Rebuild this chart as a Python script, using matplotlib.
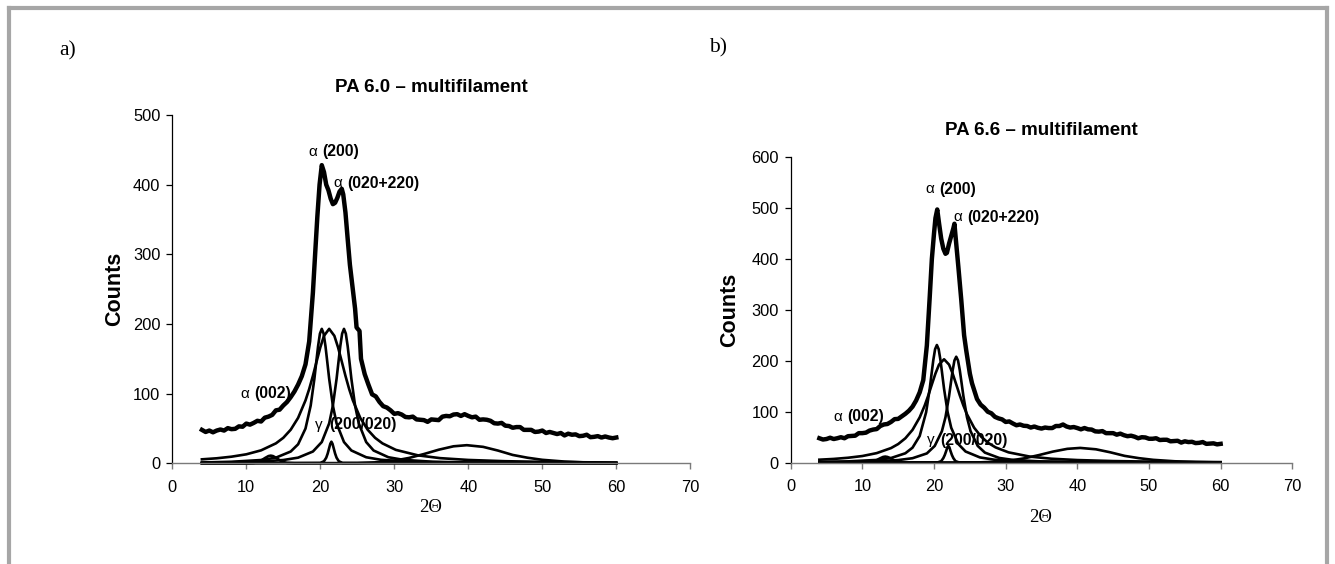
import matplotlib
matplotlib.use("Agg")
import matplotlib.pyplot as plt
from matplotlib.lines import Line2D

plt.rcParams['font.family'] = ['Liberation Sans', 'DejaVu Sans']

# ---------------- measured diffractograms ----------------
meas_lo_x = [4, 4.5, 5, 5.5, 6, 6.5, 7, 7.5, 8, 8.5, 9, 9.5, 10, 10.5, 11, 11.5, 12, 12.5, 13, 13.5,
             14, 14.5, 15, 15.5, 16, 16.5, 17]
meas_tail_x = [26, 26.5, 27, 27.5, 28, 28.5, 29, 29.5, 30, 30.5, 31, 31.5, 32, 32.5, 33, 33.5, 34, 34.5,
               35, 35.5, 36, 36.5, 37, 37.5, 38, 38.5, 39, 39.5, 40, 40.5, 41, 41.5, 42, 42.5, 43, 43.5,
               44, 44.5, 45, 45.5, 46, 46.5, 47, 47.5, 48, 48.5, 49, 49.5, 50, 50.5, 51, 51.5, 52, 52.5,
               53, 53.5, 54, 54.5, 55, 55.5, 56, 56.5, 57, 57.5, 58, 58.5, 59, 59.5, 60]

# PA 6.0 (left)
a_peak_x = [17.5, 18, 18.5, 19, 19.3, 19.6, 19.9, 20.2, 20.5, 20.8, 21.1, 21.4, 21.7, 22.0, 22.3, 22.6,
            22.9, 23.1, 23.4, 23.7, 24.0, 24.4, 24.7, 24.9, 25.3, 25.5]
a_lo_y = [48, 45, 47, 44.5, 47, 48.5, 47, 50.5, 49, 49.5, 53, 52.5, 57, 55.5, 58, 61, 60, 65.5, 67, 69.5,
          76, 77, 83, 88, 95, 103, 113]
a_peak_y = [125, 142, 175, 245, 300, 354, 400, 428, 418, 400, 392, 380, 372, 374, 381, 390,
            394, 386, 360, 322, 285, 249, 222, 195, 190, 150]
a_tail_y = [128, 113, 99, 96, 88, 82, 80, 76, 71, 72, 70, 66.5, 66, 67, 63, 62.5, 62, 59.5,
            63, 62.5, 62, 67, 68, 67.5, 70, 70.5, 68, 70.5, 68, 66, 67, 62.5, 63, 62.5, 61, 57.5,
            57, 58, 54, 53.5, 51, 52, 52, 48, 48, 48, 45, 45.5, 47, 43.5, 45, 43.5, 42, 43.5,
            40, 42.5, 41, 41.5, 39, 39.5, 41, 37.5, 38, 39, 37, 38.5, 37, 36, 37]

# PA 6.6 (right)
b_peak_x = [17.5, 18, 18.5, 19, 19.4, 19.7, 20.0, 20.2, 20.45, 20.7, 21.0, 21.3, 21.6, 21.8, 22.1, 22.4,
            22.7, 22.85, 23.0, 23.4, 23.8, 24.2, 24.5, 25.0, 25.3]
b_lo_y = [48, 45.5, 46.5, 49, 46.5, 48, 50, 48, 52, 52.5, 53, 58, 58, 59, 63, 65, 66, 72, 75, 76,
          80, 85.5, 86, 91, 96, 102, 110]
b_peak_y = [122, 138, 162, 230, 325, 400, 450, 480, 497, 470, 440, 420, 410, 412, 430, 445,
            460, 469, 445, 384, 320, 250, 220, 175, 156]
b_tail_y = [125, 114, 108, 100, 97, 90, 87, 85, 80, 81, 77, 73.5, 75, 72.5, 72, 69, 71, 68.5,
            67, 69, 68, 68, 72, 72, 75, 71, 69, 70, 68, 65.5, 68, 65.5, 65, 61.5, 61, 62,
            58, 58, 58, 55, 57, 54, 52, 53, 51, 48, 50, 49.5, 47, 47, 48, 44.5, 45, 45,
            42, 42.5, 43, 39.5, 42, 40.5, 41, 38.5, 39, 40.5, 37, 37.5, 38, 36, 37]

# ---------------- fitted components: PA 6.0 ----------------
a_p1_x = [4, 8, 12, 14, 16, 17, 18, 18.7, 19.2, 19.5, 19.7, 19.95, 20.2, 20.45, 20.7, 20.9, 21.2, 21.7,
          22.2, 23.2, 24.2, 26.2, 28.2, 32.2, 40, 50, 60]
a_p1_y = [1.2, 2.2, 4.7, 8.1, 16.9, 27.3, 49.9, 82.8, 121.3, 149.6, 168.1, 186.1, 193, 186.1, 168.1,
          149.6, 121.3, 82.8, 57.3, 30.5, 18.4, 8.7, 5.0, 2.2, 0.8, 0.4, 0.2]

a_p2_x = [4, 6, 8, 10, 12, 14, 15, 16, 17, 18, 18.5, 19, 19.5, 20, 20.5, 21.2, 21.9, 22.4, 22.9, 23.4,
          23.9, 24.4, 25.4, 26.4, 27.4, 28.4, 30.2, 33.2, 36.2, 40, 45, 50, 55, 60]
a_p2_y = [5.7, 7.2, 9.5, 12.9, 18.6, 28.6, 36.6, 48.2, 65.2, 90.3, 106.6, 125.5, 146.1, 166.4, 183, 193,
          183, 166.4, 146.1, 125.5, 106.6, 90.3, 65.2, 48.2, 36.6, 28.6, 19.3, 11.4, 7.4, 4.8, 3.0, 2.1,
          1.5, 1.15]

a_p3_x = [4, 8, 12, 15, 17, 19, 20.2, 21.2, 21.7, 22.2, 22.5, 22.7, 22.95, 23.2, 23.45, 23.7, 23.9, 24.2,
          24.7, 25.2, 26.2, 27.2, 29.2, 31.2, 35.2, 40, 50, 60]
a_p3_y = [0.9, 1.4, 2.6, 4.7, 8.1, 16.9, 30.5, 57.3, 82.8, 121.3, 149.6, 168.1, 186.1, 193, 186.1, 168.1,
          149.6, 121.3, 82.8, 57.3, 30.5, 18.4, 8.7, 5.0, 2.2, 1.2, 0.5, 0.2]

a_gam_x = [4, 20.0, 20.5, 20.8, 21.0, 21.2, 21.35, 21.5, 21.65, 21.8, 22.0, 22.2, 22.5, 23.0, 60]
a_gam_y = [0, 0.5, 3, 8, 14, 22, 28, 31, 28, 22, 14, 8, 3, 0.5, 0]

a_a002_x = [4, 10, 11, 11.5, 12, 12.5, 13, 13.3, 13.6, 14, 14.5, 15, 15.5, 16.5, 60]
a_a002_y = [0, 0, 0.4, 1.5, 3.9, 7.4, 10.4, 11, 10.4, 8.1, 4.5, 1.9, 0.55, 0, 0]

a_b40_x = [4, 25, 28, 30, 32, 34, 36, 38, 39.8, 42, 44, 46, 48, 50, 53, 56, 60]
a_b40_y = [0, 0.3, 1.6, 3.8, 7.7, 13.3, 19.5, 24.4, 26, 23.6, 18.3, 12.0, 8.0, 5.0, 2.5, 1.2, 0.5]

# ---------------- fitted components: PA 6.6 ----------------
b_p1_x = [4, 8, 12, 14, 16, 17, 18, 18.9, 19.4, 19.7, 19.9, 20.15, 20.4, 20.65, 20.9, 21.1, 21.4, 21.9,
          22.4, 23.4, 24.4, 26.4, 28.4, 32.4, 40, 50, 60]
b_p1_y = [1.5, 2.6, 5.4, 9.2, 18.5, 29.5, 52.4, 99.1, 145.2, 179.1, 201.2, 222.8, 231, 222.8, 201.2,
          179.1, 145.2, 99.1, 68.6, 36.5, 22.0, 10.4, 5.9, 2.7, 1.0, 0.44, 0.25]

b_p2_x = [4, 6, 8, 10, 12, 14, 15, 16, 17, 18, 18.7, 19.2, 19.7, 20.2, 20.7, 21.4, 22.1, 22.6, 23.1, 23.6,
          24.1, 24.6, 25.6, 26.6, 27.6, 28.6, 30.4, 33.4, 36.4, 40, 45, 50, 55, 60]
b_p2_y = [5.9, 7.4, 9.7, 13.1, 18.8, 28.7, 36.6, 47.9, 64.4, 88.9, 112.2, 132, 153.7, 175, 192.5, 203,
          192.5, 175, 153.7, 132, 112.2, 95, 68.6, 50.8, 38.5, 30.0, 20.3, 11.9, 7.8, 5.2, 3.2, 2.2,
          1.6, 1.2]

b_p3_x = [4, 8, 12, 15, 17, 19, 20.1, 21.1, 21.6, 22.1, 22.4, 22.6, 22.85, 23.1, 23.35, 23.6, 23.8, 24.1,
          24.6, 25.1, 26.1, 27.1, 29.1, 31.1, 35.1, 40, 50, 60]
b_p3_y = [0.95, 1.5, 2.8, 5.1, 8.8, 18.2, 32.9, 61.8, 89.2, 130.7, 161.2, 181.2, 200.6, 208, 200.6, 181.2,
          161.2, 130.7, 89.2, 61.8, 32.9, 19.8, 9.3, 5.3, 2.4, 1.3, 0.5, 0.25]

b_gam_x = [4, 20.5, 21.0, 21.3, 21.5, 21.7, 21.85, 22.0, 22.15, 22.3, 22.5, 22.7, 23.0, 23.5, 60]
b_gam_y = [0, 0.5, 3, 9, 15, 23, 30, 33, 30, 23, 15, 9, 3, 0.5, 0]

b_a002_x = [4, 9.9, 10.9, 11.4, 11.9, 12.4, 12.9, 13.2, 13.5, 13.9, 14.4, 14.9, 15.4, 16.4, 60]
b_a002_y = [0, 0, 0.4, 1.6, 4.2, 8.1, 11.3, 12, 11.3, 8.9, 4.9, 2.1, 0.6, 0, 0]

b_b40_x = [4, 25.6, 28.6, 30.6, 32.6, 34.6, 36.6, 38.6, 40.4, 42.6, 44.6, 46.6, 48.6, 50.6, 53.6, 56.6, 60]
b_b40_y = [0, 0.3, 1.8, 4.2, 8.6, 14.8, 21.8, 27.2, 29, 26.3, 20.4, 13.4, 8.9, 5.6, 2.8, 1.3, 0.5]

x_ticks = [0, 10, 20, 30, 40, 50, 60, 70]
a_yticks = [0, 100, 200, 300, 400, 500]
b_yticks = [0, 100, 200, 300, 400, 500, 600]

a_title = "PA 6.0 \u2013 multifilament"
b_title = "PA 6.6 \u2013 multifilament"

a_labels = [("\u03b1", "(200)", 18.34, 447), ("\u03b1", "(020+220)", 21.7, 402),
            ("\u03b1", "(002)", 9.15, 99.5), ("\u03b3", "(200/020)", 19.3, 55)]
b_labels = [("\u03b1", "(200)", 18.74, 537), ("\u03b1", "(020+220)", 22.65, 482),
            ("\u03b1", "(002)", 5.9, 90), ("\u03b3", "(200/020)", 19.0, 44.5)]

a_meas_x = meas_lo_x + a_peak_x + meas_tail_x
a_meas_y = a_lo_y + a_peak_y + a_tail_y
b_meas_x = meas_lo_x + b_peak_x + meas_tail_x
b_meas_y = b_lo_y + b_peak_y + b_tail_y

W, H = 1335, 564
fig = plt.figure(figsize=(W / 100, H / 100), dpi=100)


def style_axes(ax, ymax, yticks):
    ax.set_xlim(0, 70)
    ax.set_ylim(0, ymax)
    ax.set_xticks(x_ticks)
    ax.set_yticks(yticks)
    for s in ('top', 'right'):
        ax.spines[s].set_visible(False)
    ax.spines['left'].set_color('black')
    ax.spines['left'].set_linewidth(0.9)
    ax.spines['bottom'].set_color('#7a7a7a')
    ax.spines['bottom'].set_linewidth(1.0)
    ax.tick_params(axis='y', direction='out', length=4.5, width=0.9, color='black',
                   labelsize=11.8, pad=4)
    ax.tick_params(axis='x', direction='out', length=4, width=1.0, color='#7a7a7a',
                   labelsize=11.8, pad=8)
    ax.patch.set_visible(False)


def draw(ax, meas, comps, labels):
    for cx, cy in comps:
        ax.plot(cx, cy, color='black', lw=1.9, solid_joinstyle='round', clip_on=False)
    ax.plot(meas[0], meas[1], color='black', lw=3.2, solid_joinstyle='round')
    for g, b, x, y in labels:
        ax.annotate(g, xy=(x, y), xytext=(0, 0), textcoords='offset points',
                    ha='left', va='center', fontsize=11)
        ax.annotate(b, xy=(x, y), xytext=(10, 0), textcoords='offset points',
                    ha='left', va='center', fontsize=11.3, fontweight='bold')


axA = fig.add_axes([172.3 / W, (H - 463.3) / H, 518 / W, 348.3 / H])
style_axes(axA, 500, a_yticks)
draw(axA, (a_meas_x, a_meas_y),
     [(a_p1_x, a_p1_y), (a_p2_x, a_p2_y), (a_p3_x, a_p3_y), (a_gam_x, a_gam_y),
      (a_a002_x, a_a002_y), (a_b40_x, a_b40_y)], a_labels)

axB = fig.add_axes([790.7 / W, (H - 462.7) / H, 501.6 / W, 305.7 / H])
style_axes(axB, 600, b_yticks)
draw(axB, (b_meas_x, b_meas_y),
     [(b_p1_x, b_p1_y), (b_p2_x, b_p2_y), (b_p3_x, b_p3_y), (b_gam_x, b_gam_y),
      (b_a002_x, b_a002_y), (b_b40_x, b_b40_y)], b_labels)

# titles, axis labels, panel letters
fig.text(431 / W, 1 - 87 / H, a_title, ha='center', va='center', fontsize=13.5, fontweight='bold')
fig.text(1041 / W, 1 - 130 / H, b_title, ha='center', va='center', fontsize=13.5, fontweight='bold')
fig.text(115 / W, 1 - 289 / H, "Counts", rotation=90, ha='center', va='center', fontsize=15.5,
         fontweight='bold')
fig.text(730 / W, 1 - 310 / H, "Counts", rotation=90, ha='center', va='center', fontsize=15.5,
         fontweight='bold')
serif = ['Liberation Serif', 'DejaVu Serif']
fig.text(431 / W, 1 - 507 / H, "2\u0398", ha='center', va='center', fontsize=13.5, family=serif)
fig.text(1041 / W, 1 - 518 / H, "2\u0398", ha='center', va='center', fontsize=13.5, family=serif)
fig.text(67.5 / W, 1 - 51 / H, "a)", ha='center', va='center', fontsize=15.5, family=serif)
fig.text(718 / W, 1 - 48 / H, "b)", ha='center', va='center', fontsize=15.5, family=serif)

# grey frame (open at bottom)
frame_c = '#a6a6a6'
fig.add_artist(Line2D([8.5 / W, 1326.5 / W], [1 - 8 / H, 1 - 8 / H], color=frame_c, lw=3.0,
                      transform=fig.transFigure))
fig.add_artist(Line2D([8.5 / W, 8.5 / W], [1 - 8 / H, 0], color=frame_c, lw=3.0,
                      transform=fig.transFigure))
fig.add_artist(Line2D([1326.5 / W, 1326.5 / W], [1 - 8 / H, 0], color=frame_c, lw=3.0,
                      transform=fig.transFigure))

fig.savefig("out.png", dpi=100)
